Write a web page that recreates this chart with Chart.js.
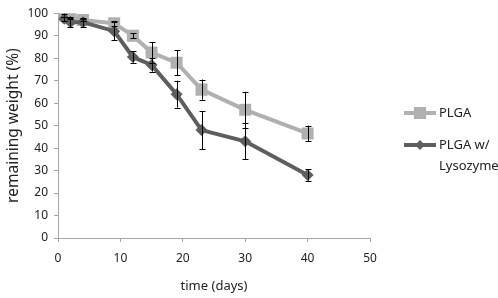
<!DOCTYPE html>
<html>
<head>
<meta charset="utf-8">
<script src="https://cdn.jsdelivr.net/npm/chart.js@4"></script>
<style>
  html, body { margin: 0; padding: 0; background: #fff; }
  #wrap { width: 498px; height: 298px; }
</style>
</head>
<body>
<div id="wrap"><canvas id="chart" width="498" height="298"></canvas></div>
<script>
// ── data (days, remaining weight %, +/- error)
const days       = [1, 2, 4, 9, 12, 15, 19, 23, 30, 40];
const plga       = [99, 98, 97, 95.5, 90, 82.5, 78, 66, 57, 46.5];
const plgaErr    = [0.5, 0.5, 0.5, 1, 1, 4.5, 5.5, 4.5, 8, 3.5];
const lyso       = [97.5, 96, 96, 92, 80.5, 77, 64, 48, 43, 28];
const lysoErr    = [1, 2, 2, 4, 2.5, 3, 6, 8.5, 8, 2.5];
const seriesNames = ['PLGA', ['PLGA w/', 'Lysozyme']];

const FONT = '"Noto Sans", sans-serif';
const LIGHT = '#b0b0b0';
const DARK  = '#5e5e5e';
const AXIS  = '#a6a6a6';

function pts(ys) {
  return days.map((d, i) => ({ x: d, y: ys[i] }));
}

// error bars drawn from the arrays through the scales
const errorBars = {
  id: 'errorBars',
  afterDatasetsDraw(chart) {
    const { ctx, scales: { x, y } } = chart;
    const errs = [plgaErr, lysoErr];
    const vals = [plga, lyso];
    ctx.save();
    ctx.strokeStyle = '#000';
    ctx.lineWidth = 1;
    errs.forEach((err, s) => {
      days.forEach((d, i) => {
        const px = Math.round(x.getPixelForValue(d)) + 0.5;
        const top = y.getPixelForValue(vals[s][i] + err[i]);
        const bot = y.getPixelForValue(vals[s][i] - err[i]);
        ctx.beginPath();
        ctx.moveTo(px, top); ctx.lineTo(px, bot);
        ctx.moveTo(px - 3, Math.round(top) + 0.5); ctx.lineTo(px + 3, Math.round(top) + 0.5);
        ctx.moveTo(px - 3, Math.round(bot) + 0.5); ctx.lineTo(px + 3, Math.round(bot) + 0.5);
        ctx.stroke();
      });
    });
    ctx.restore();
  }
};

// legend on the right, text wraps like the original
const sideLegend = {
  id: 'sideLegend',
  afterDraw(chart) {
    const { ctx } = chart;
    const items = [
      { color: LIGHT, style: 'rect', y: 113 },
      { color: DARK, style: 'diamond', y: 145 }
    ];
    ctx.save();
    items.forEach((it, i) => {
      ctx.strokeStyle = it.color;
      ctx.lineWidth = 4;
      ctx.beginPath();
      ctx.moveTo(404, it.y); ctx.lineTo(436, it.y);
      ctx.stroke();
      ctx.fillStyle = it.color;
      ctx.beginPath();
      if (it.style === 'rect') {
        ctx.rect(414, it.y - 6, 12, 12);
      } else {
        ctx.moveTo(420, it.y - 5); ctx.lineTo(425, it.y);
        ctx.lineTo(420, it.y + 5); ctx.lineTo(415, it.y);
        ctx.closePath();
      }
      ctx.fill();
      ctx.fillStyle = '#222';
      ctx.font = '13px ' + FONT;
      ctx.textBaseline = 'middle';
      const lines = [].concat(seriesNames[i]);
      lines.forEach((t, k) => ctx.fillText(t, 439, it.y + k * 21));
    });
    ctx.restore();
  }
};

new Chart(document.getElementById('chart'), {
  type: 'scatter',
  data: {
    datasets: [
      {
        label: 'PLGA',
        data: pts(plga),
        showLine: true,
        borderColor: LIGHT,
        backgroundColor: LIGHT,
        borderWidth: 4,
        pointStyle: 'rect',
        pointRadius: 8.5,
        pointBorderWidth: 0,
        order: 2
      },
      {
        label: 'PLGA w/ Lysozyme',
        data: pts(lyso),
        showLine: true,
        borderColor: DARK,
        backgroundColor: DARK,
        borderWidth: 4,
        pointStyle: 'rectRot',
        pointRadius: 6,
        pointBorderWidth: 0,
        order: 1
      }
    ]
  },
  options: {
    responsive: false,
    animation: false,
    layout: { padding: { top: 10, right: 128, left: 0, bottom: 0 } },
    plugins: {
      legend: { display: false },
      tooltip: { enabled: false }
    },
    scales: {
      x: {
        type: 'linear',
        min: 0, max: 50,
        ticks: { stepSize: 10, color: '#222', font: { family: FONT, size: 12 }, padding: 9 },
        grid: { display: true, drawOnChartArea: false, drawTicks: true, tickLength: 4, color: AXIS },
        border: { color: AXIS, width: 1 },
        title: { display: true, text: 'time (days)', color: '#222', font: { family: FONT, size: 13 }, padding: { top: 2 } },
        afterFit(scale) { scale.height = 60; }
      },
      y: {
        min: 0, max: 100,
        ticks: { stepSize: 10, color: '#222', font: { family: FONT, size: 12 }, padding: 6 },
        grid: { display: true, drawOnChartArea: false, drawTicks: true, tickLength: 4, color: AXIS },
        border: { color: AXIS, width: 1 },
        title: { display: true, text: 'remaining weight (%)', color: '#222', font: { family: FONT, size: 15.5 }, padding: { bottom: 0 } },
        afterFit(scale) { scale.width = 58; }
      }
    }
  },
  plugins: [errorBars, sideLegend]
});
</script>
</body>
</html>
